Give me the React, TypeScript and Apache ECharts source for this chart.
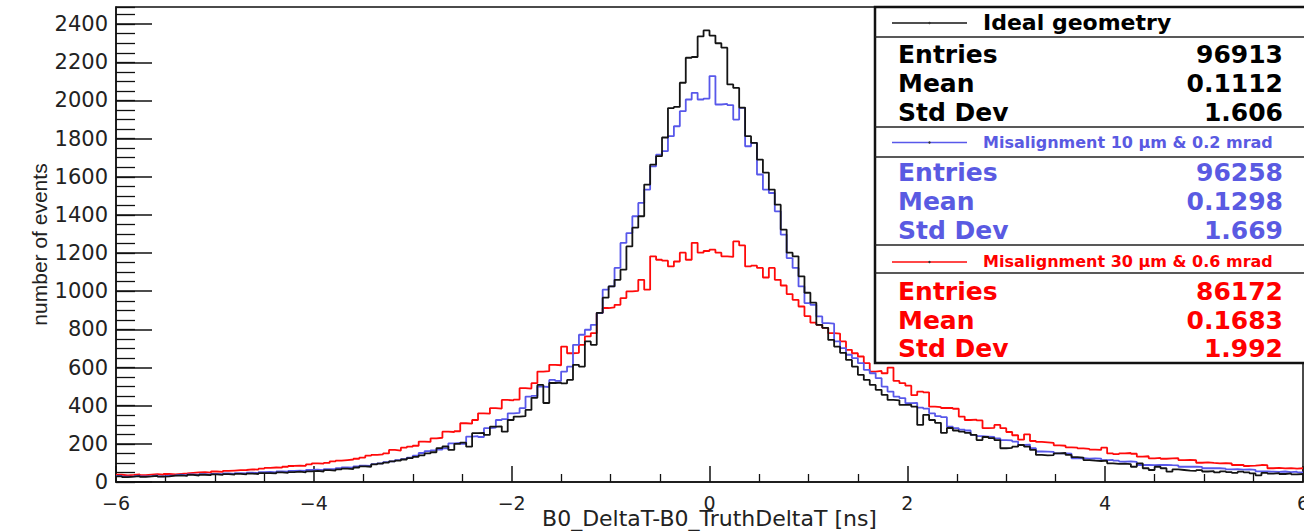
import React, { useEffect, useRef } from "react";
import * as echarts from "echarts";

// ---- axis / binning ----
const X_MIN = -6;
const X_MAX = 6;
const BIN_WIDTH = 0.06;
const Y_MAX = 2490;
const X_TICK_STEP = 2;
const Y_TICK_STEP = 200;
const Y_MINOR_STEP = 50;
const X_AXIS_TITLE = "B0_DeltaT-B0_TruthDeltaT [ns]";
const Y_AXIS_TITLE = "number of events";

// ---- histogram contents (200 bins of 0.06 ns from -6 to 6) ----
const idealCounts = [
  30, 26, 28, 31, 27, 29, 32, 28, 30, 33,
  35, 32, 37, 34, 38, 36, 40, 37, 41, 39,
  43, 40, 44, 42, 46, 47, 45, 50, 48, 52,
  54, 51, 56, 58, 55, 62, 60, 66, 70, 68,
  76, 82, 80, 92, 96, 102, 108, 112, 118, 125,
  132, 140, 150, 156, 178, 186, 168, 200, 206, 185,
  256, 258, 247, 290, 292, 264, 325, 343, 345, 378,
  441, 509, 414, 519, 521, 517, 535, 614, 605, 737,
  719, 887, 966, 1025, 1060, 1113, 1235, 1333, 1393, 1559,
  1664, 1708, 1806, 1960, 1966, 2093, 2224, 2228, 2336, 2367,
  2340, 2300, 2277, 2084, 2066, 1963, 1813, 1778, 1690, 1622,
  1533, 1454, 1323, 1202, 1183, 1078, 992, 940, 824, 808,
  745, 710, 677, 640, 605, 562, 535, 509, 483, 457,
  430, 428, 404, 406, 395, 299, 352, 325, 310, 257,
  283, 270, 264, 257, 247, 220, 236, 230, 220, 177,
  179, 185, 194, 185, 168, 142, 140, 141, 150, 152,
  142, 130, 128, 115, 112, 110, 112, 98, 95, 96,
  94, 80, 98, 72, 63, 80, 72, 54, 66, 63,
  60, 58, 62, 55, 57, 50, 56, 52, 48, 54,
  50, 45, 35, 48, 44, 47, 42, 45, 40, 42,
];

const misalign10Counts = [
  32, 28, 30, 33, 29, 31, 34, 30, 33, 35,
  38, 35, 40, 37, 41, 39, 43, 41, 45, 43,
  47, 45, 49, 47, 51, 53, 50, 55, 54, 58,
  60, 58, 63, 65, 62, 68, 67, 72, 76, 75,
  82, 86, 85, 94, 98, 104, 108, 115, 120, 128,
  138, 152, 162, 166, 170, 176, 203, 205, 200, 238,
  240, 236, 282, 285, 325, 330, 360, 362, 387, 448,
  452, 500, 498, 535, 530, 579, 605, 719, 772, 798,
  824, 886, 1008, 1025, 1122, 1253, 1305, 1393, 1463, 1533,
  1655, 1716, 1734, 1813, 1865, 1944, 2005, 2040, 2005, 2010,
  2128, 1979, 1982, 1976, 1900, 1961, 1760, 1778, 1612, 1533,
  1515, 1419, 1297, 1174, 1122, 1025, 938, 929, 868, 833,
  830, 737, 702, 667, 649, 623, 588, 570, 544, 500,
  474, 448, 440, 413, 415, 390, 385, 360, 345, 340,
  290, 282, 275, 270, 247, 240, 238, 236, 229, 220,
  218, 212, 194, 196, 177, 160, 159, 158, 150, 150,
  148, 124, 125, 122, 124, 123, 115, 116, 112, 107,
  108, 105, 89, 90, 88, 89, 90, 88, 87, 80,
  81, 80, 79, 72, 73, 72, 70, 66, 67, 65,
  66, 64, 56, 55, 54, 53, 55, 52, 54, 50,
];

const misalign30Counts = [
  38, 35, 37, 40, 36, 39, 41, 38, 42, 40,
  43, 45, 48, 50, 52, 49, 55, 53, 58, 60,
  62, 63, 66, 65, 70, 74, 76, 75, 80, 84,
  86, 85, 92, 98, 96, 100, 108, 112, 115, 118,
  122, 128, 138, 142, 145, 150, 168, 165, 180, 185,
  190, 212, 210, 229, 232, 264, 262, 266, 308, 306,
  325, 360, 358, 387, 385, 430, 428, 432, 492, 490,
  518, 579, 581, 614, 612, 710, 675, 677, 719, 763,
  780, 886, 912, 915, 929, 964, 999, 1002, 1060, 1008,
  1183, 1165, 1160, 1130, 1156, 1202, 1165, 1254, 1202, 1211,
  1218, 1202, 1183, 1180, 1261, 1240, 1130, 1134, 1122, 1072,
  1122, 1060, 1030, 985, 955, 920, 870, 835, 824, 808,
  780, 778, 737, 693, 675, 658, 623, 579, 582, 570,
  600, 530, 518, 505, 455, 474, 470, 395, 392, 388,
  388, 384, 343, 325, 327, 323, 282, 284, 299, 282,
  262, 245, 222, 250, 215, 210, 208, 205, 192, 190,
  182, 180, 176, 174, 170, 168, 180, 150, 146, 150,
  152, 148, 133, 135, 124, 126, 122, 124, 125, 115,
  116, 114, 101, 103, 100, 98, 99, 97, 89, 90,
  84, 86, 89, 88, 72, 74, 71, 73, 70, 72,
];

// ---- stat boxes ----
const statLabels = ["Entries", "Mean", "Std Dev"];
const seriesNames = [
  "Ideal geometry",
  "Misalignment 10 \u00b5m & 0.2 mrad",
  "Misalignment 30 \u00b5m & 0.6 mrad",
];
const idealStats = ["96913", "0.1112", "1.606"];
const misalign10Stats = ["96258", "0.1298", "1.669"];
const misalign30Stats = ["86172", "0.1683", "1.992"];

const COLORS = ["#141414", "#5858ea", "#ff0a0a"];
const TEXT_COLORS = ["#000000", "#5a5ae2", "#ff0000"];

function toSteps(counts: number[]) {
  const pts: number[][] = counts.map((v, i) => [X_MIN + i * BIN_WIDTH, v]);
  pts.push([X_MAX, counts[counts.length - 1]]);
  return pts;
}

function buildStatBox() {
  const L = 875;
  const R = 1304;
  const els: any[] = [];
  els.push({
    type: "rect",
    shape: { x: L, y: 7, width: R - L + 4, height: 356 },
    style: { fill: "#ffffff", stroke: "#111", lineWidth: 2.5 },
    z: 100,
  });
  const dividers = [37, 127, 157, 245, 273];
  dividers.forEach((y) =>
    els.push({
      type: "line",
      shape: { x1: L, y1: y, x2: R, y2: y },
      style: { stroke: "#222", lineWidth: 1.6 },
      z: 101,
    })
  );
  const titleY = [22.5, 142, 261.5];
  const rowsY = [
    [54, 83, 112],
    [172, 201, 230],
    [291, 320, 348],
  ];
  const values = [idealStats, misalign10Stats, misalign30Stats];
  for (let k = 0; k < 3; k++) {
    els.push({
      type: "line",
      shape: { x1: 892, y1: titleY[k] + 0.5, x2: 967, y2: titleY[k] + 0.5 },
      style: { stroke: COLORS[k], lineWidth: 1.3 },
      z: 102,
    });
    els.push({
      type: "circle",
      shape: { cx: 929.5, cy: titleY[k] + 0.5, r: 1.2 },
      style: { fill: "#333" },
      z: 103,
    });
    els.push({
      type: "text",
      x: 983,
      y: titleY[k],
      style: {
        text: seriesNames[k],
        fill: TEXT_COLORS[k],
        fontFamily: "DejaVu Sans",
        fontWeight: "bold",
        fontSize: k === 0 ? 22 : 16,
        align: "left",
        verticalAlign: "middle",
      },
      z: 102,
    });
    for (let r = 0; r < 3; r++) {
      els.push({
        type: "text",
        x: 898,
        y: rowsY[k][r],
        style: {
          text: statLabels[r],
          fill: TEXT_COLORS[k],
          fontFamily: "DejaVu Sans",
          fontWeight: "bold",
          fontSize: 25,
          align: "left",
          verticalAlign: "middle",
        },
        z: 102,
      });
      els.push({
        type: "text",
        x: 1283,
        y: rowsY[k][r],
        style: {
          text: values[k][r],
          fill: TEXT_COLORS[k],
          fontFamily: "DejaVu Sans",
          fontWeight: "bold",
          fontSize: 25,
          align: "right",
          verticalAlign: "middle",
        },
        z: 102,
      });
    }
  }
  return els;
}

export default function App() {
  const ref = useRef<HTMLDivElement>(null);
  useEffect(() => {
    if (!ref.current) return;
    const chart = echarts.init(ref.current, undefined, { renderer: "svg" });
    const series = [idealCounts, misalign10Counts, misalign30Counts].map((c, k) => ({
      name: seriesNames[k],
      type: "line",
      step: "end",
      symbol: "none",
      data: toSteps(c),
      clip: true,
      xAxisIndex: 0,
      yAxisIndex: 0,
      lineStyle: { color: COLORS[k], width: 1.8 },
      z: 3 + (k === 0 ? 2 : k === 1 ? 1 : 0),
    }));
    chart.setOption({
      animation: false,
      backgroundColor: "#ffffff",
      grid: {
        left: 116,
        right: 1,
        top: 7,
        bottom: 49,
        containLabel: false,
        outerBoundsMode: "none",
        show: true,
        borderColor: "#111",
        borderWidth: 1.5,
        backgroundColor: "transparent",
      },
      xAxis: {
        type: "value",
        min: X_MIN,
        max: X_MAX,
        interval: X_TICK_STEP,
        name: X_AXIS_TITLE,
        nameLocation: "middle",
        nameGap: 25,
        nameMoveOverlap: false,
        nameTextStyle: { fontFamily: "DejaVu Sans", fontSize: 22, color: "#222" },
        axisLine: { onZero: false, lineStyle: { color: "#111", width: 1.5 } },
        axisTick: { inside: true, length: 16, lineStyle: { color: "#111", width: 1.5 } },
        minorTick: { show: true, splitNumber: 4, length: 8, lineStyle: { color: "#111", width: 1.3 } },
        splitLine: { show: false },
        minorSplitLine: { show: false },
        axisLabel: {
          margin: 11,
          fontFamily: "DejaVu Sans",
          fontSize: 19,
          color: "#222",
          formatter: (v: number) => (v < 0 ? "\u2212" + Math.abs(v) : String(v)),
        },
      },
      yAxis: [
        {
          type: "value",
          position: "left",
          min: 0,
          max: Y_MAX,
          interval: Y_TICK_STEP,
          name: Y_AXIS_TITLE,
          nameLocation: "middle",
          nameGap: 66,
          nameRotate: 90,
          nameMoveOverlap: false,
          nameTextStyle: { fontFamily: "Liberation Sans", fontSize: 21, color: "#222" },
          axisLine: { show: true, onZero: false, lineStyle: { color: "#111", width: 1.5 } },
          axisTick: { show: true, inside: true, length: 36, lineStyle: { color: "#111", width: 1.5 } },
          splitLine: { show: false },
          axisLabel: {
            margin: 8,
            showMaxLabel: false,
            fontFamily: "DejaVu Sans",
            fontSize: 21,
            color: "#222",
            formatter: (v: number) => String(v),
          },
        },
        {
          type: "value",
          position: "left",
          min: 0,
          max: Y_MAX,
          interval: Y_MINOR_STEP,
          axisLine: { show: false, onZero: false },
          axisTick: { show: true, inside: true, length: 19, lineStyle: { color: "#111", width: 1.3 } },
          axisLabel: { show: false },
          splitLine: { show: false },
        },
      ],
      series,
      graphic: buildStatBox(),
    });
    return () => chart.dispose();
  }, []);
  return (
    <div
      ref={ref}
      style={{ position: "fixed", left: 0, top: 0, width: 1304, height: 531, background: "#fff" }}
    />
  );
}
